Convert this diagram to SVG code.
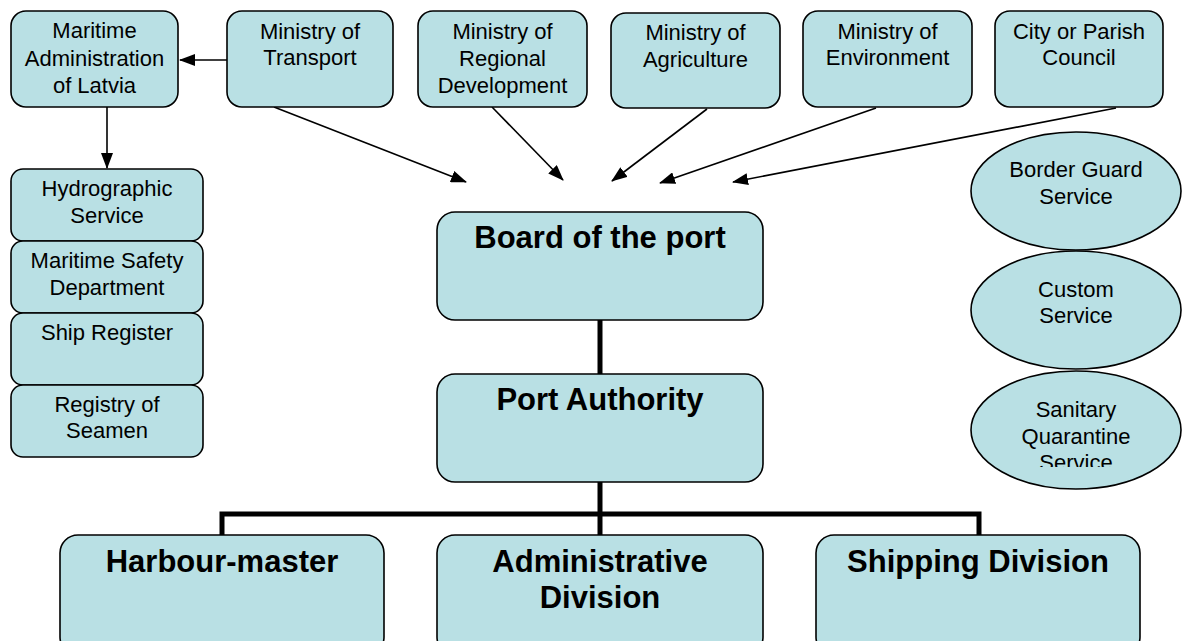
<svg xmlns="http://www.w3.org/2000/svg" width="1182" height="641" viewBox="0 0 1182 641">
  <style>
    .box { fill: #b9e0e4; stroke: #000; stroke-width: 1.6; }
    .t { font-family: "Liberation Sans", Arial, sans-serif; font-size: 22px; fill: #000; text-anchor: middle; }
    .b { font-family: "Liberation Sans", Arial, sans-serif; font-size: 31px; font-weight: bold; fill: #000; text-anchor: middle; }
    .arr { stroke: #000; stroke-width: 1.6; fill: none; marker-end: url(#ah); }
    .bar { stroke: #000; stroke-width: 5; fill: none; }
  </style>
  <defs>
    <marker id="ah" viewBox="0 0 16 12" refX="15" refY="6" markerWidth="16" markerHeight="12" markerUnits="userSpaceOnUse" orient="auto">
      <path d="M0,0 L16,6 L0,12 Z" fill="#000"/>
    </marker>
    <clipPath id="sanClip">
      <rect x="960" y="370" width="222" height="97"/>
    </clipPath>
  </defs>
  <rect width="1182" height="641" fill="#fff"/>

  <!-- connectors -->
  <g id="connectors">
    <line class="arr" x1="227" y1="60" x2="180" y2="60"/>
    <line class="arr" x1="107" y1="107" x2="107" y2="168"/>
    <line class="arr" x1="274" y1="107" x2="466" y2="182"/>
    <line class="arr" x1="492" y1="107" x2="563" y2="180"/>
    <line class="arr" x1="707" y1="109" x2="612" y2="181"/>
    <line class="arr" x1="876" y1="108" x2="660" y2="183"/>
    <line class="arr" x1="1116" y1="108" x2="733" y2="182"/>
    <line class="bar" x1="600" y1="320" x2="600" y2="374"/>
    <line class="bar" x1="600" y1="482" x2="600" y2="535"/>
    <polyline class="bar" points="222,535 222,514 979,514 979,535"/>
  </g>

  <!-- top row -->
  <g id="maritime-admin">
    <rect class="box" x="11" y="11" width="167" height="96" rx="15"/>
    <text class="t" x="94.5" y="38">Maritime</text>
    <text class="t" x="94.5" y="66">Administration</text>
    <text class="t" x="94.5" y="93">of Latvia</text>
  </g>
  <g id="ministry-transport">
    <rect class="box" x="227" y="11" width="166" height="96" rx="15"/>
    <text class="t" x="310" y="39">Ministry of</text>
    <text class="t" x="310" y="65">Transport</text>
  </g>
  <g id="ministry-regional">
    <rect class="box" x="418" y="11" width="169" height="96" rx="15"/>
    <text class="t" x="502.5" y="39">Ministry of</text>
    <text class="t" x="502.5" y="66">Regional</text>
    <text class="t" x="502.5" y="93">Development</text>
  </g>
  <g id="ministry-agriculture">
    <rect class="box" x="611" y="13" width="169" height="95" rx="15"/>
    <text class="t" x="695.5" y="40">Ministry of</text>
    <text class="t" x="695.5" y="67">Agriculture</text>
  </g>
  <g id="ministry-environment">
    <rect class="box" x="803" y="11" width="169" height="96" rx="15"/>
    <text class="t" x="887.5" y="39">Ministry of</text>
    <text class="t" x="887.5" y="65">Environment</text>
  </g>
  <g id="city-council">
    <rect class="box" x="995" y="11" width="168" height="96" rx="15"/>
    <text class="t" x="1079" y="39">City or Parish</text>
    <text class="t" x="1079" y="65">Council</text>
  </g>

  <!-- left column -->
  <g id="hydrographic">
    <rect class="box" x="11" y="169" width="192" height="72" rx="12"/>
    <text class="t" x="107" y="196">Hydrographic</text>
    <text class="t" x="107" y="223">Service</text>
  </g>
  <g id="safety-dept">
    <rect class="box" x="11" y="241" width="192" height="72" rx="12"/>
    <text class="t" x="107" y="268">Maritime Safety</text>
    <text class="t" x="107" y="295">Department</text>
  </g>
  <g id="ship-register">
    <rect class="box" x="11" y="313" width="192" height="72" rx="12"/>
    <text class="t" x="107" y="340">Ship Register</text>
  </g>
  <g id="seamen-registry">
    <rect class="box" x="11" y="385" width="192" height="72" rx="12"/>
    <text class="t" x="107" y="412">Registry of</text>
    <text class="t" x="107" y="438">Seamen</text>
  </g>

  <!-- centre -->
  <g id="board">
    <rect class="box" x="437" y="212" width="326" height="108" rx="18"/>
    <text class="b" x="600" y="248">Board of the port</text>
  </g>
  <g id="port-authority">
    <rect class="box" x="437" y="374" width="326" height="108" rx="18"/>
    <text class="b" x="600" y="410">Port Authority</text>
  </g>

  <!-- right column -->
  <g id="border-guard">
    <ellipse class="box" cx="1076" cy="191" rx="105" ry="59"/>
    <text class="t" x="1076" y="177">Border Guard</text>
    <text class="t" x="1076" y="204">Service</text>
  </g>
  <g id="custom">
    <ellipse class="box" cx="1076" cy="310" rx="105" ry="59"/>
    <text class="t" x="1076" y="297">Custom</text>
    <text class="t" x="1076" y="323">Service</text>
  </g>
  <g id="sanitary">
    <ellipse class="box" cx="1076" cy="430" rx="105" ry="59"/>
    <g clip-path="url(#sanClip)">
      <text class="t" x="1076" y="417">Sanitary</text>
      <text class="t" x="1076" y="444">Quarantine</text>
      <text class="t" x="1076" y="470">Service</text>
    </g>
  </g>

  <!-- bottom row -->
  <g id="harbour-master">
    <rect class="box" x="60" y="535" width="324" height="120" rx="18"/>
    <text class="b" x="222" y="572">Harbour-master</text>
  </g>
  <g id="admin-division">
    <rect class="box" x="437" y="535" width="326" height="120" rx="18"/>
    <text class="b" x="600" y="572">Administrative</text>
    <text class="b" x="600" y="608">Division</text>
  </g>
  <g id="shipping-division">
    <rect class="box" x="816" y="535" width="324" height="120" rx="18"/>
    <text class="b" x="978" y="572">Shipping Division</text>
  </g>
</svg>
